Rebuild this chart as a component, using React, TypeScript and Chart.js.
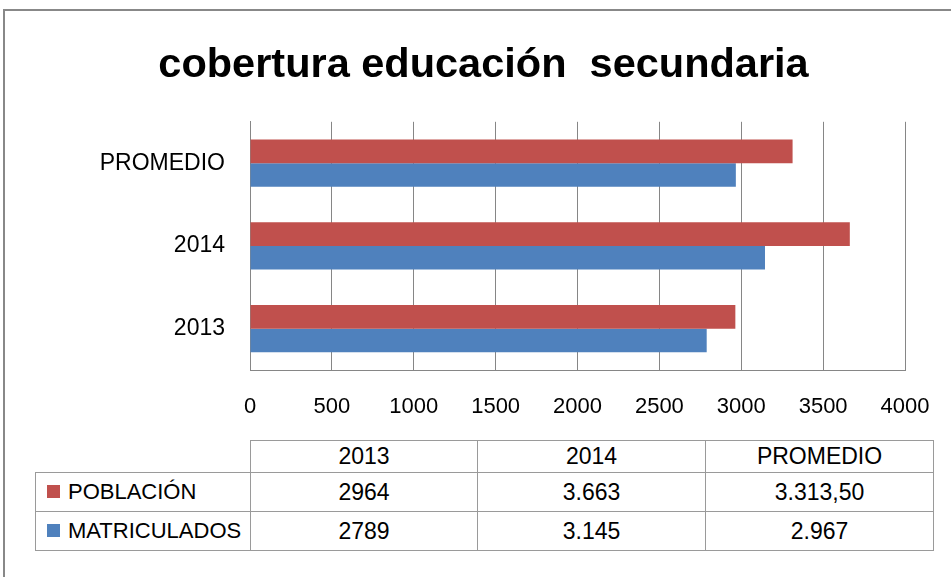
import React, { useEffect, useRef } from "react";
import { Chart, registerables } from "chart.js";

Chart.register(...registerables);

const categories = ["2013", "2014", "PROMEDIO"];
const poblacion = [2964, 3663, 3313.5];
const matriculados = [2789, 3145, 2967];
const poblacionText = ["2964", "3.663", "3.313,50"];
const matriculadosText = ["2789", "3.145", "2.967"];
const seriesNames = ["POBLACIÓN", "MATRICULADOS"];
const titleText = "cobertura educación  secundaria";

const RED = "#C0504D";
const BLUE = "#4F81BD";
const GRID = "#868686";
const FONT = "'Liberation Sans', Arial, sans-serif";

export default function App() {
  const ref = useRef<HTMLCanvasElement | null>(null);

  useEffect(() => {
    if (!ref.current) return;
    const chart = new Chart(ref.current, {
      type: "bar",
      data: {
        labels: categories,
        datasets: [
          { label: seriesNames[0], data: poblacion, backgroundColor: RED, categoryPercentage: 0.57, barPercentage: 1 },
          { label: seriesNames[1], data: matriculados, backgroundColor: BLUE, categoryPercentage: 0.57, barPercentage: 1 },
        ],
      },
      options: {
        indexAxis: "y",
        animation: false,
        responsive: false,
        layout: { padding: { left: 62, right: 46, top: 0, bottom: 0 } },
        plugins: {
          legend: { display: false },
          tooltip: { enabled: false },
          title: {
            display: true,
            text: titleText,
            color: "#000",
            font: { family: FONT, size: 41.5, weight: "bold", lineHeight: 1.2 },
            padding: { top: 41, bottom: 31 },
          },
        },
        scales: {
          x: {
            min: 0,
            max: 4000,
            ticks: {
              stepSize: 500,
              color: "#000",
              font: { family: FONT, size: 22 },
              padding: 24,
              callback: (v: any) => String(v),
            },
            grid: { color: GRID, drawTicks: false, lineWidth: 1 },
            border: { display: true, color: GRID },
            afterFit: (s: any) => {
              s.height = 60;
              s.paddingLeft = 0;
              s.paddingRight = 0;
            },
          },
          y: {
            reverse: true,
            ticks: { color: "#000", font: { family: FONT, size: 23 }, padding: 25 },
            grid: { display: false, drawTicks: false },
            border: { display: true, color: GRID },
            afterFit: (s: any) => { s.width = 188; },
          },
        },
      },
    });
    return () => chart.destroy();
  }, []);

  const cell: React.CSSProperties = {
    border: "1px solid #9a9a9a",
    textAlign: "center",
    padding: 0,
    fontWeight: "normal",
  };
  const labelCell: React.CSSProperties = { ...cell, textAlign: "left", paddingLeft: 11, whiteSpace: "nowrap", fontSize: 22 };
  const sq = (c: string): React.CSSProperties => ({
    display: "inline-block",
    width: 13,
    height: 13,
    background: c,
    marginRight: 8,
    verticalAlign: "middle",
    position: "relative",
    top: -2,
  });

  return (
    <div style={{ position: "fixed", left: 0, top: 0, width: 951, height: 577, background: "#fff", overflow: "hidden", fontFamily: FONT }}>
      <div style={{ position: "absolute", left: 3, top: 9, width: 1000, height: 700, borderTop: "2px solid #888", borderLeft: "2px solid #888" }} />
      <canvas ref={ref} width={951} height={430} style={{ position: "absolute", left: 0, top: 0, width: 951, height: 430 }} />
      <table style={{ position: "absolute", left: 35, top: 440, borderCollapse: "collapse", fontSize: 23, color: "#000", tableLayout: "fixed" }}>
        <colgroup>
          <col style={{ width: 215 }} />
          <col style={{ width: 227 }} />
          <col style={{ width: 228 }} />
          <col style={{ width: 228 }} />
        </colgroup>
        <tbody>
          <tr style={{ height: 32 }}>
            <td style={{ padding: 0, border: "none", borderBottom: "1px solid #9a9a9a" }} />
            {categories.map((c) => (
              <td key={c} style={cell}>{c}</td>
            ))}
          </tr>
          <tr style={{ height: 39 }}>
            <td style={labelCell}><span style={sq(RED)} />{seriesNames[0]}</td>
            {poblacionText.map((v, i) => (
              <td key={i} style={cell}>{v}</td>
            ))}
          </tr>
          <tr style={{ height: 39 }}>
            <td style={labelCell}><span style={sq(BLUE)} />{seriesNames[1]}</td>
            {matriculadosText.map((v, i) => (
              <td key={i} style={cell}>{v}</td>
            ))}
          </tr>
        </tbody>
      </table>
    </div>
  );
}
